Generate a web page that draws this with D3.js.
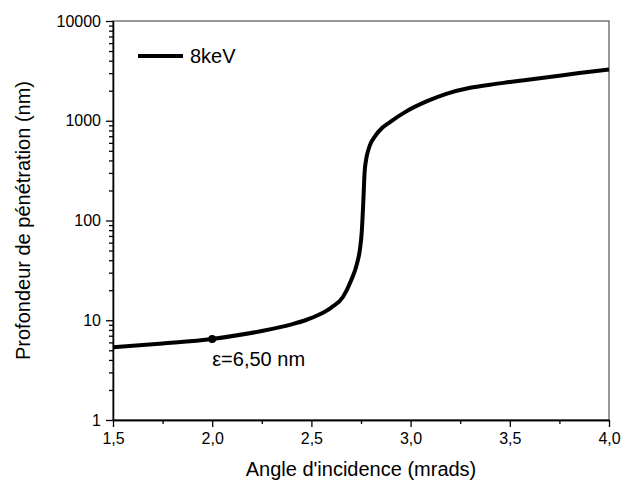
<!DOCTYPE html>
<html>
<head>
<meta charset="utf-8">
<script src="https://cdn.jsdelivr.net/npm/d3@7"></script>
<style>
  body { margin: 0; background: #fff; }
  svg { display: block; font-family: "Liberation Sans", Arial, sans-serif; }
  .axis text { font-size: 16px; fill: #000; }
  .axis path, .axis line { stroke: #000; stroke-width: 1.3; }
</style>
</head>
<body>
<div id="chart"></div>
<script>
// penetration depth (nm) vs incidence angle (mrad)
const angles = [1.5, 1.75, 2.0, 2.25, 2.4, 2.47, 2.54, 2.6, 2.66, 2.70, 2.73, 2.745, 2.754, 2.762, 2.768, 2.776, 2.787, 2.795, 2.821, 2.856, 2.896, 2.972, 3.083, 3.18, 3.3, 3.4, 3.5, 3.7, 3.85, 4.0];
const depths = [5.35, 5.85, 6.5, 7.8, 9.1, 10.0, 11.4, 13.4, 17.2, 25, 37, 52, 78, 160, 300, 410, 510, 570, 700, 845, 970, 1220, 1570, 1860, 2140, 2300, 2440, 2740, 3010, 3270];
const xTicks = [1.5, 2.0, 2.5, 3.0, 3.5, 4.0];
const xMinor = [1.75, 2.25, 2.75, 3.25, 3.75];
const yTicks = [1, 10, 100, 1000, 10000];
const marker = { angle: 2.0, depth: 6.5, label: "\u03b5=6,50 nm" };
const legendLabel = "8keV";

const W = 622, H = 485;
const m = { top: 21, right: 13, bottom: 65, left: 113 };

const svg = d3.select("#chart").append("svg").attr("width", W).attr("height", H);

const x = d3.scaleLinear().domain([1.5, 4.0]).range([m.left, W - m.right]);
const y = d3.scaleLog().domain([1, 10000]).range([H - m.bottom, m.top]);
const comma = (d) => d3.format(".1f")(d).replace(".", ",");

// frame (top/right)
svg.append("rect")
  .attr("x", m.left).attr("y", m.top)
  .attr("width", W - m.right - m.left).attr("height", H - m.bottom - m.top)
  .attr("fill", "none").attr("stroke", "#333").attr("stroke-width", 1);

// minor ticks
const yMinor = [];
yTicks.slice(0, -1).forEach((d) => { for (let k = 2; k <= 9; k++) yMinor.push(d * k); });
svg.append("g").attr("class", "axis").attr("transform", `translate(0,${H - m.bottom})`)
  .call(d3.axisBottom(x).tickValues(xMinor).tickSize(4).tickSizeOuter(0).tickFormat(""));
svg.append("g").attr("class", "axis").attr("transform", `translate(${m.left},0)`)
  .call(d3.axisLeft(y).tickValues(yMinor).tickSize(4).tickSizeOuter(0).tickFormat(""));

// major axes
svg.append("g").attr("class", "axis").attr("transform", `translate(0,${H - m.bottom})`)
  .call(d3.axisBottom(x).tickValues(xTicks).tickSize(7).tickSizeOuter(0).tickPadding(6).tickFormat(comma));
svg.append("g").attr("class", "axis").attr("transform", `translate(${m.left},0)`)
  .call(d3.axisLeft(y).tickValues(yTicks).tickSize(7).tickSizeOuter(0).tickPadding(5).tickFormat(d3.format("d")));

// curve
const line = d3.line().x((d, i) => x(angles[i])).y((d) => y(d)).curve(d3.curveMonotoneX);
svg.append("path").datum(depths).attr("d", line)
  .attr("fill", "none").attr("stroke", "#000").attr("stroke-width", 4).attr("stroke-linejoin", "round");

// marker + annotation
svg.append("circle").attr("cx", x(marker.angle)).attr("cy", y(marker.depth)).attr("r", 4).attr("fill", "#000");
svg.append("text").attr("x", x(marker.angle)).attr("y", y(marker.depth) + 27)
  .attr("font-size", 20).text(marker.label);

// legend
svg.append("line").attr("x1", 138).attr("x2", 183).attr("y1", 56).attr("y2", 56)
  .attr("stroke", "#000").attr("stroke-width", 4);
svg.append("text").attr("x", 190).attr("y", 63).attr("font-size", 20).text(legendLabel);

// axis titles
svg.append("text").attr("x", (m.left + W - m.right) / 2).attr("y", 476)
  .attr("text-anchor", "middle").attr("font-size", 20).text("Angle d'incidence (mrads)");
svg.append("text").attr("transform", `translate(30,${(m.top + H - m.bottom) / 2}) rotate(-90)`)
  .attr("text-anchor", "middle").attr("font-size", 20).text("Profondeur de pénétration (nm)");
</script>
</body>
</html>
